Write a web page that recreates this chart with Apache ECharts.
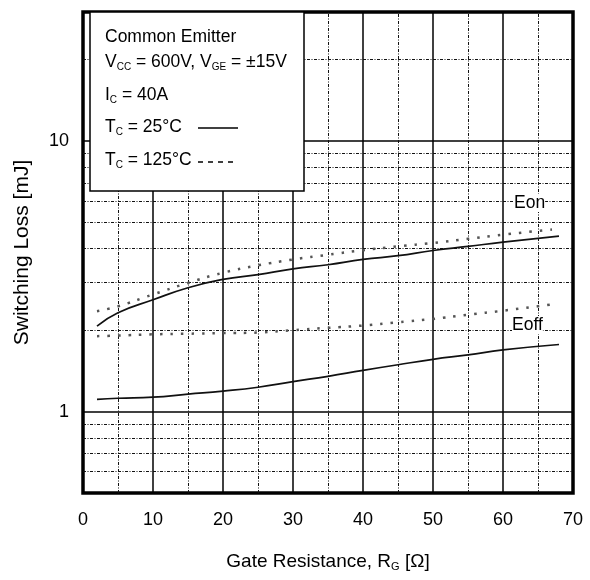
<!DOCTYPE html>
<html>
<head>
<meta charset="utf-8">
<script src="https://cdn.jsdelivr.net/npm/echarts@6/dist/echarts.min.js"></script>
<style>
  html, body { margin: 0; padding: 0; background: #fff; }
  #main { width: 590px; height: 580px; }
</style>
</head>
<body>
<div id="main"></div>
<script>
  // gate resistance [ohm]
  const rgSolid = [2, 5, 10, 15, 20, 25, 30, 35, 40, 45, 50, 55, 60, 68];
  const rgDotted = [2, 5, 10, 15, 20, 25, 30, 35, 40, 45, 50, 55, 60, 67];
  // switching loss [mJ], Tc = 25C (solid) and 125C (dotted)
  const eon25 = [2.07, 2.32, 2.59, 2.87, 3.08, 3.21, 3.37, 3.49, 3.65, 3.77, 3.94, 4.08, 4.23, 4.45];
  const eoff25 = [1.11, 1.12, 1.13, 1.16, 1.19, 1.23, 1.29, 1.35, 1.42, 1.49, 1.56, 1.62, 1.69, 1.77];
  const eon125 = [2.35, 2.45, 2.71, 2.99, 3.26, 3.47, 3.65, 3.80, 3.95, 4.08, 4.20, 4.35, 4.51, 4.71];
  const eoff125 = [1.90, 1.91, 1.93, 1.94, 1.95, 1.96, 2.00, 2.04, 2.08, 2.14, 2.20, 2.28, 2.36, 2.49];
  // minor grid lines
  const yMinor = [0.6, 0.7, 0.8, 0.9, 2, 3, 4, 5, 6, 7, 8, 9, 20];
  const xMinor = [5, 15, 25, 35, 45, 55, 65];
  const yLabels = [1, 10];

  const FONT = 'Liberation Sans, Arial, sans-serif';
  const gridDash = [3, 1.5, 1, 1.5];

  const zip = (xs, ys) => xs.map((x, i) => [x, ys[i]]);

  const solidStyle = { color: '#111', width: 1.7, type: 'solid' };
  const dottedStyle = { color: '#555', width: 2.5, type: [2.5, 8] };
  const subStyle = { fontFamily: FONT, fontSize: 10, fill: '#000', padding: [10, 0, 0, 0] };

  const myChart = echarts.init(document.getElementById('main'), null, { renderer: 'canvas' });

  myChart.setOption({
    animation: false,
    backgroundColor: '#fff',
    grid: {
      left: 83, right: 17, top: 12, bottom: 87,
      show: true,
      borderColor: '#000',
      borderWidth: 3.5,
      backgroundColor: 'transparent'
    },
    xAxis: {
      type: 'value',
      min: 0, max: 70, interval: 10,
      axisLine: { show: false },
      axisTick: { show: false },
      axisLabel: { fontFamily: FONT, fontSize: 18, color: '#000', margin: 18 },
      splitLine: { show: true, lineStyle: { color: '#000', width: 1.5 } },
      name: 'Gate Resistance, R{s|G} [Ω]',
      nameLocation: 'middle',
      nameGap: 58,
      nameTextStyle: {
        fontFamily: FONT, fontSize: 19, color: '#000',
        rich: { s: { fontFamily: FONT, fontSize: 11, color: '#000', padding: [10, 0, 0, 0] } }
      }
    },
    yAxis: {
      type: 'log',
      logBase: 10,
      min: 0.5, max: 30,
      axisLine: { show: false },
      axisTick: { show: false },
      axisLabel: {
        fontFamily: FONT, fontSize: 18, color: '#000', margin: 14,
        showMinLabel: false, showMaxLabel: false,
        formatter: v => yLabels.some(l => Math.abs(l - v) < 1e-6) ? String(Math.round(v)) : ''
      },
      splitLine: { show: true, lineStyle: { color: '#000', width: 1.5 } },
      name: 'Switching Loss [mJ]',
      nameLocation: 'middle',
      nameRotate: 90,
      nameGap: 50,
      nameTextStyle: { fontFamily: FONT, fontSize: 21, color: '#000' }
    },
    series: [
      {
        // holder for the dotted minor grid
        type: 'line',
        data: zip(rgSolid, eoff25),
        lineStyle: { opacity: 0 },
        symbol: 'none',
        silent: true,
        z: 1,
        markLine: {
          silent: true,
          symbol: 'none',
          z: 1,
          label: { show: false },
          lineStyle: { color: '#111', width: 1, type: gridDash },
          data: yMinor.map(v => ({ yAxis: v })).concat(xMinor.map(v => ({ xAxis: v })))
        }
      },
      { name: 'Eon 25', type: 'line', smooth: true, symbol: 'none', z: 3, data: zip(rgSolid, eon25), lineStyle: solidStyle },
      { name: 'Eoff 25', type: 'line', smooth: true, symbol: 'none', z: 3, data: zip(rgSolid, eoff25), lineStyle: solidStyle },
      { name: 'Eon 125', type: 'line', smooth: true, symbol: 'none', z: 3, data: zip(rgDotted, eon125), lineStyle: dottedStyle },
      { name: 'Eoff 125', type: 'line', smooth: true, symbol: 'none', z: 3, data: zip(rgDotted, eoff125), lineStyle: dottedStyle }
    ],
    graphic: [
      {
        type: 'rect', z: 10,
        shape: { x: 90, y: 12, width: 214, height: 179 },
        style: { fill: '#fff', stroke: '#000', lineWidth: 1.5 }
      },
      {
        type: 'text', z: 11, left: 105, top: 28,
        style: { text: 'Common Emitter', fontFamily: FONT, fontSize: 17.5, fill: '#000' }
      },
      {
        type: 'text', z: 11, left: 105, top: 53,
        style: {
          text: 'V{s|CC} = 600V, V{s|GE} = ±15V', fontFamily: FONT, fontSize: 17.5, fill: '#000',
          rich: { s: subStyle }
        }
      },
      {
        type: 'text', z: 11, left: 105, top: 86,
        style: {
          text: 'I{s|C} = 40A', fontFamily: FONT, fontSize: 17.5, fill: '#000',
          rich: { s: subStyle }
        }
      },
      {
        type: 'text', z: 11, left: 105, top: 118,
        style: {
          text: 'T{s|C} = 25°C', fontFamily: FONT, fontSize: 17.5, fill: '#000',
          rich: { s: subStyle }
        }
      },
      {
        type: 'text', z: 11, left: 105, top: 151,
        style: {
          text: 'T{s|C} = 125°C', fontFamily: FONT, fontSize: 17.5, fill: '#000',
          rich: { s: subStyle }
        }
      },
      {
        type: 'line', z: 11,
        shape: { x1: 198, y1: 128, x2: 238, y2: 128 },
        style: { stroke: '#000', lineWidth: 1.5 }
      },
      {
        type: 'line', z: 11,
        shape: { x1: 198, y1: 162, x2: 234, y2: 162 },
        style: { stroke: '#000', lineWidth: 1.5, lineDash: [5, 5] }
      },
      {
        type: 'text', z: 11, left: 514, top: 194,
        style: { text: 'Eon', fontFamily: FONT, fontSize: 17.5, fill: '#000', backgroundColor: '#fff' }
      },
      {
        type: 'text', z: 11, left: 512, top: 316,
        style: { text: 'Eoff', fontFamily: FONT, fontSize: 17.5, fill: '#000', backgroundColor: '#fff' }
      }
    ]
  });
</script>
</body>
</html>
